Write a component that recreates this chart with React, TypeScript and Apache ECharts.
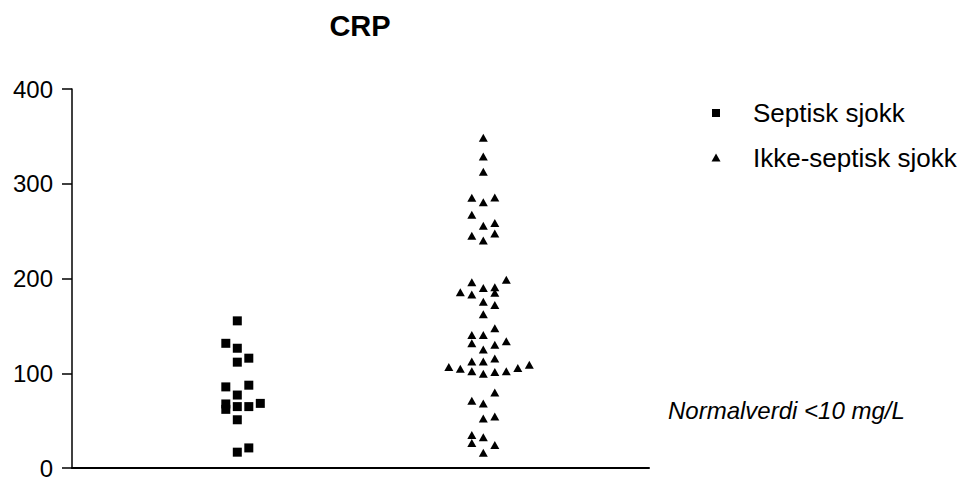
import React, { useEffect, useRef } from "react";
import * as echarts from "echarts";

// CRP (mg/L) per patient, by group
const groupNames = ["Septisk sjokk", "Ikke-septisk sjokk"];
const septiskSjokk = [
  155.3, 131.6, 126.4, 115.9, 111.7, 87.4, 85.6, 77.0, 68.2, 67.6, 64.8, 64.8,
  61.9, 50.9, 21.2, 16.7,
];
const ikkeSeptiskSjokk = [
  348.5, 328.7, 312.6, 285.4, 285.1, 280.6, 267.4, 258.7, 255.6, 247.5, 245.1,
  240.2, 198.7, 196.0, 190.8, 190.1, 185.6, 184.9, 183.1, 175.5, 172.0, 162.2,
  147.6, 140.3, 140.3, 133.7, 131.6, 130.2, 125.0, 115.6, 112.5, 112.5, 108.9,
  106.5, 105.5, 104.8, 102.0, 102.0, 101.3, 99.5, 79.7, 71.0, 68.2, 54.3, 52.2,
  34.8, 32.4, 26.4, 24.3, 16.0,
];
const yTicks = { min: 0, max: 400, step: 100 };
const titleText = "CRP";
const noteText = "Normalverdi <10 mg/L";

// Column-scatter layout: values are grouped into bands of BAND units from the
// lowest upwards; inside a band points fan out from the column centre,
// alternating sides, and the starting side flips from band to band.
const BAND = 12.2;
const SLOT = 0.04675; // horizontal step between neighbours, in x units
const X_MIN = 0.328;
const X_MAX = 2.6736;

function columnScatter(values: number[], centre: number): number[][] {
  const sorted = [...values].sort((a, b) => a - b);
  const out: number[][] = [];
  let dir = 1;
  let i = 0;
  while (i < sorted.length) {
    const start = sorted[i];
    let k = 0;
    while (i < sorted.length && sorted[i] - start < BAND) {
      const slot = k === 0 ? 0 : k % 2 === 1 ? dir * ((k + 1) / 2) : -dir * (k / 2);
      out.push([centre + slot * SLOT, sorted[i]]);
      k++;
      i++;
    }
    dir = -dir;
  }
  return out;
}

const FONT = "'Liberation Sans', Arial, Helvetica, sans-serif";

export default function App() {
  const ref = useRef<HTMLDivElement>(null);

  useEffect(() => {
    if (!ref.current) return;
    const chart = echarts.init(ref.current, undefined, { renderer: "svg" });
    chart.setOption({
      animation: false,
      backgroundColor: "#ffffff",
      grid: { left: 72, right: 317, top: 89, bottom: 8 },
      xAxis: {
        type: "value",
        min: X_MIN,
        max: X_MAX,
        axisLine: { show: true, onZero: false, lineStyle: { color: "#000", width: 2 } },
        axisTick: { show: false },
        axisLabel: { show: false },
        splitLine: { show: false },
      },
      yAxis: {
        type: "value",
        min: yTicks.min,
        max: yTicks.max,
        interval: yTicks.step,
        axisLine: { show: true, lineStyle: { color: "#000", width: 1.5 } },
        axisTick: { show: true, length: 10, lineStyle: { color: "#000", width: 1.5 } },
        axisLabel: { color: "#000", fontSize: 24, fontFamily: FONT, margin: 19 },
        splitLine: { show: false },
      },
      series: [
        {
          name: groupNames[0],
          type: "scatter",
          symbol: "rect",
          symbolSize: 9,
          itemStyle: { color: "#000", opacity: 1 },
          data: columnScatter(septiskSjokk, 1),
        },
        {
          name: groupNames[1],
          type: "scatter",
          symbol: "triangle",
          symbolSize: [9, 8],
          itemStyle: { color: "#000", opacity: 1 },
          data: columnScatter(ikkeSeptiskSjokk, 2),
        },
      ],
      graphic: [
        {
          type: "text",
          x: 360,
          y: 26,
          style: {
            text: titleText,
            fontSize: 29,
            fontWeight: "bold",
            fontFamily: FONT,
            fill: "#000",
            align: "center",
            verticalAlign: "middle",
          },
        },
        {
          type: "rect",
          shape: { x: 712, y: 109, width: 8, height: 8 },
          style: { fill: "#000" },
        },
        {
          type: "text",
          x: 753,
          y: 113,
          style: {
            text: groupNames[0],
            fontSize: 26,
            fontFamily: FONT,
            fill: "#000",
            align: "left",
            verticalAlign: "middle",
          },
        },
        {
          type: "polygon",
          shape: { points: [[716, 153.5], [720.5, 161.5], [711.5, 161.5]] },
          style: { fill: "#000" },
        },
        {
          type: "text",
          x: 753,
          y: 158,
          style: {
            text: groupNames[1],
            fontSize: 26,
            fontFamily: FONT,
            fill: "#000",
            align: "left",
            verticalAlign: "middle",
          },
        },
        {
          type: "text",
          x: 668,
          y: 410,
          style: {
            text: noteText,
            fontSize: 24,
            fontStyle: "italic",
            fontFamily: FONT,
            fill: "#000",
            align: "left",
            verticalAlign: "middle",
          },
        },
      ],
    });
    return () => chart.dispose();
  }, []);

  return (
    <div
      ref={ref}
      style={{ position: "fixed", left: 0, top: 0, width: 966, height: 480 }}
    />
  );
}
